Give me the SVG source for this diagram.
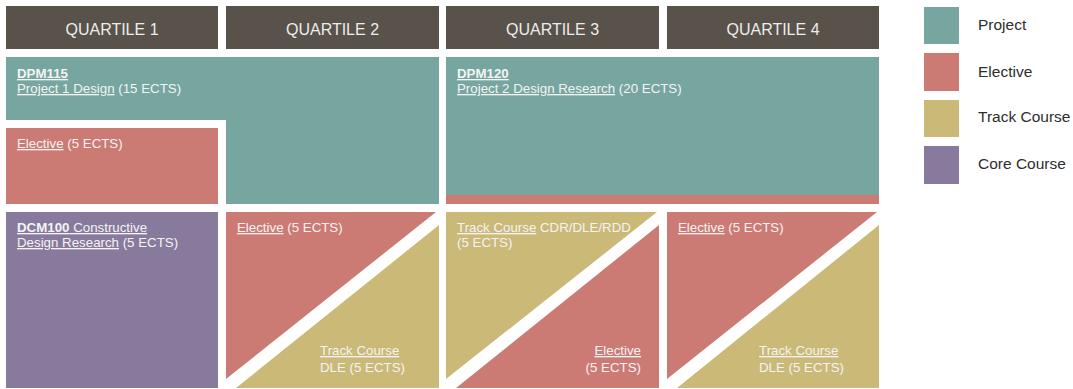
<svg xmlns="http://www.w3.org/2000/svg" width="1073" height="389" viewBox="0 0 1073 389">
<style>
.hdr{fill:#58524a}
.hdrt{font-family:"Liberation Sans",Arial,sans-serif;font-size:16px;fill:#ececec;text-anchor:middle}
.proj{fill:#76a69f}
.elec{fill:#cc7a74}
.track{fill:#cbb978}
.core{fill:#887a9c}
.t{font-family:"Liberation Sans",Arial,sans-serif;font-size:13.3px;fill:#f4f4f4}
.u{text-decoration:underline}
.b{font-weight:bold}
.leg{font-family:"Liberation Sans",Arial,sans-serif;font-size:15.5px;fill:#2e2e2e}
</style>
<rect width="1073" height="389" fill="#ffffff"/>
<g id="header-q1"><rect class="hdr" x="6" y="6" width="212" height="43"/><text class="hdrt" x="112" y="35">QUARTILE 1</text></g>
<g id="header-q2"><rect class="hdr" x="226" y="6" width="213" height="43"/><text class="hdrt" x="332.5" y="35">QUARTILE 2</text></g>
<g id="header-q3"><rect class="hdr" x="446" y="6" width="213" height="43"/><text class="hdrt" x="552.5" y="35">QUARTILE 3</text></g>
<g id="header-q4"><rect class="hdr" x="667" y="6" width="212" height="43"/><text class="hdrt" x="773" y="35">QUARTILE 4</text></g>

<g id="dpm115">
<path class="proj" d="M6 57H439V204H226V120H6Z"/>
<text class="t" x="17" y="78"><tspan class="u b">DPM115</tspan></text>
<text class="t" x="17" y="93"><tspan class="u">Project 1 Design</tspan> (15 ECTS)</text>
</g>
<g id="elective-q1">
<rect class="elec" x="6" y="128" width="212" height="76"/>
<text class="t" x="17" y="148"><tspan class="u">Elective</tspan> (5 ECTS)</text>
</g>
<g id="dpm120">
<rect class="proj" x="446" y="57" width="433" height="138"/>
<rect class="elec" x="446" y="195" width="433" height="9"/>
<text class="t" x="457" y="78"><tspan class="u b">DPM120</tspan></text>
<text class="t" x="457" y="93"><tspan class="u">Project 2 Design Research</tspan> (20 ECTS)</text>
</g>
<g id="dcm100">
<rect class="core" x="6" y="212" width="212" height="176"/>
<text class="t" x="17" y="232"><tspan class="u"><tspan class="b">DCM100</tspan> Constructive</tspan></text>
<text class="t" x="17" y="247"><tspan class="u">Design Research</tspan> (5 ECTS)</text>
</g>
<g id="q2-elective">
<polygon class="elec" points="226,212 436,212 226,379"/>
<text class="t" x="237" y="232"><tspan class="u">Elective</tspan> (5 ECTS)</text>
</g>
<g id="q2-track">
<polygon class="track" points="439,225 439,388 236,388"/>
<text class="t" x="320" y="355"><tspan class="u">Track Course</tspan></text>
<text class="t" x="320" y="372">DLE (5 ECTS)</text>
</g>
<g id="q3-track">
<polygon class="track" points="446,212 657,212 446,379"/>
<text class="t" x="457" y="232"><tspan class="u">Track Course</tspan> CDR/DLE/RDD</text>
<text class="t" x="457" y="247">(5 ECTS)</text>
</g>
<g id="q3-elective">
<polygon class="elec" points="659,225 659,388 456,388"/>
<text class="t" x="641" y="355" text-anchor="end"><tspan class="u">Elective</tspan></text>
<text class="t" x="641" y="372" text-anchor="end">(5 ECTS)</text>
</g>
<g id="q4-elective">
<polygon class="elec" points="667,212 877,212 667,379"/>
<text class="t" x="678" y="232"><tspan class="u">Elective</tspan> (5 ECTS)</text>
</g>
<g id="q4-track">
<polygon class="track" points="879,225 879,388 677,388"/>
<text class="t" x="759" y="355"><tspan class="u">Track Course</tspan></text>
<text class="t" x="759" y="372">DLE (5 ECTS)</text>
</g>

<g id="legend-project"><rect class="proj" x="924" y="7" width="35" height="37"/><text class="leg" x="978" y="30">Project</text></g>
<g id="legend-elective"><rect class="elec" x="924" y="53" width="35" height="38"/><text class="leg" x="978" y="77">Elective</text></g>
<g id="legend-track"><rect class="track" x="924" y="100" width="35" height="37"/><text class="leg" x="978" y="122">Track Course</text></g>
<g id="legend-core"><rect class="core" x="924" y="146" width="35" height="38"/><text class="leg" x="978" y="169">Core Course</text></g>
</svg>
